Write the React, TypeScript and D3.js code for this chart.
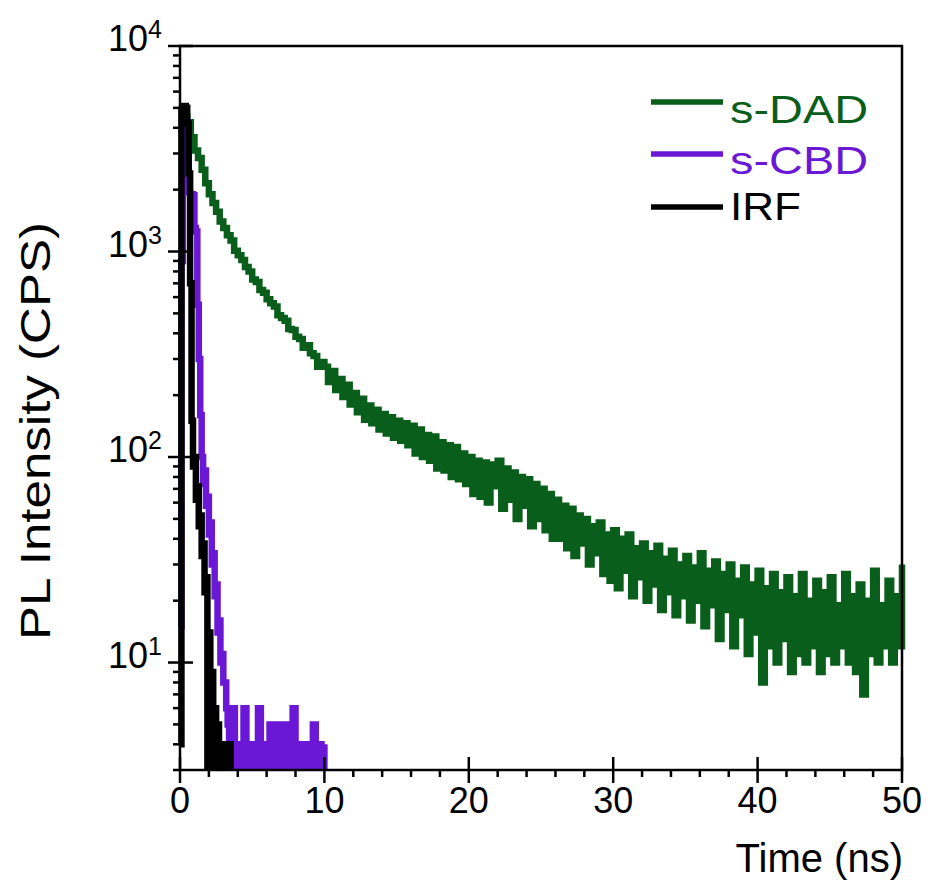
import React, { useEffect, useRef } from 'react';
import * as d3 from 'd3';

// s-DAD decay, counts every 0.25 ns from 0 to 50 ns
const DAD_STEP = 0.25;
const sDAD = [
  4700, 4550, 4250, 3600, 3100, 2850, 2500, 2150, 1900, 1720,
  1560, 1400, 1300, 1200, 1130, 1010, 960, 910, 840, 800,
  730, 710, 650, 630, 585, 560, 540, 490, 475, 460,
  420, 415, 385, 375, 340, 350, 320, 310, 275, 290,
  275, 232, 262, 212, 240, 196, 225, 180, 205, 165,
  192, 152, 178, 146, 170, 136, 162, 130, 156, 124,
  150, 120, 146, 114, 142, 104, 136, 100, 128, 96,
  126, 88, 118, 86, 114, 80, 112, 78, 104, 74,
  100, 66, 96, 64, 94, 60, 92, 72, 96, 56,
  88, 62, 84, 50, 80, 58, 78, 46, 74, 50,
  70, 44, 66, 40, 62, 40, 58, 36, 56, 33,
  52, 38, 50, 30, 46, 34, 48, 27, 42, 25,
  44, 23, 40, 28, 42, 21, 36, 26, 38, 20,
  34, 24, 37, 18, 32, 22, 35, 17, 30, 21,
  33, 16, 29, 20, 34, 15, 28, 19, 31, 13,
  27, 18, 30, 12, 25, 17, 29, 11, 24, 14,
  28, 8, 23, 12, 27, 10, 22, 13, 26, 9,
  21, 11, 27, 10, 20, 12, 25, 9, 22, 11,
  26, 10, 19, 12, 27, 10, 21, 9, 24, 7,
  20, 11, 28, 10, 19, 12, 25, 10, 21, 12,
  30,
];

// s-CBD: 0-3.5 ns every 0.1 ns, then 3.6-10 ns every 0.2 ns
const CBD_STEP_EARLY = 0.1;
const sCBDEarly = [
  15, 900, 4700, 4800, 4300, 3000, 1950, 1900, 1900, 1880,
  1300, 1250, 550, 300, 160, 100, 74, 86, 58, 64,
  42, 48, 30, 34, 21, 24, 14, 16, 10, 11,
  8, 8, 6, 5, 4, 2,
];
const CBD_STEP_TAIL = 0.2;
const CBD_TAIL_START = 3.6;
const sCBDTail = [
  6, 1, 4, 2, 6, 1, 4, 2, 4, 6,
  1, 4, 2, 5, 1, 5, 2, 4, 5, 1,
  4, 6, 2, 4, 1, 4, 2, 4, 5, 1,
  4, 2, 4,
];

// IRF every 0.1 ns
const IRF_STEP = 0.1;
const irf = [
  4, 4900, 5100, 5100, 5000, 4200, 2400, 700, 150, 90,
  100, 62, 72, 46, 52, 33, 38, 22, 26, 2,
  14, 1, 9, 2, 6, 1, 5, 2, 4, 1,
  4, 2, 4, 1, 4, 1,
];

const X_TICKS = [0, 10, 20, 30, 40, 50];
const Y_TICKS = [10, 100, 1000, 10000];
const Y_EXP = ['1', '2', '3', '4'];

const LEGEND = ['s-DAD', 's-CBD', 'IRF'];
const COLORS = ['#0a5e1b', '#6a18d6', '#000000'];
const LEGEND_LEN = [138, 138, 71];

const App = () => {
  const svgRef = useRef(null);

  useEffect(() => {
    const svg = d3.select(svgRef.current);
    svg.selectAll('*').remove();

    const width = 936;
    const height = 890;
    const left = 180, right = 902, top = 46, bottom = 770;
    const font = '"Liberation Sans", Arial, sans-serif';

    const x = d3.scaleLinear().domain([0, 50]).range([left, right]);
    const y = d3.scaleLog().domain([3, 10000]).range([bottom, top]);

    svg.attr('width', width).attr('height', height);

    svg.append('defs').append('clipPath').attr('id', 'plotclip')
      .append('rect')
      .attr('x', left - 8).attr('y', top)
      .attr('width', right - left + 12).attr('height', bottom - top);

    const dadData = sDAD.map((v, i) => ({ t: i * DAD_STEP, v }));
    const cbdData = [
      ...sCBDEarly.map((v, i) => ({ t: i * CBD_STEP_EARLY, v })),
      ...sCBDTail.map((v, i) => ({ t: CBD_TAIL_START + i * CBD_STEP_TAIL, v })),
    ];
    const irfData = irf.map((v, i) => ({ t: i * IRF_STEP, v }));

    const line = d3.line()
      .x(d => x(d.t))
      .y(d => Math.min(y(d.v), bottom + 20))
      .curve(d3.curveStepAfter);

    const plot = svg.append('g').attr('clip-path', 'url(#plotclip)');
    [dadData, cbdData, irfData].forEach((data, i) => {
      plot.append('path')
        .datum(data)
        .attr('d', line)
        .attr('fill', 'none')
        .attr('stroke', COLORS[i])
        .attr('stroke-width', 6.5)
        .attr('stroke-linejoin', 'miter');
    });

    // frame
    svg.append('rect')
      .attr('x', left).attr('y', top)
      .attr('width', right - left).attr('height', bottom - top)
      .attr('fill', 'none').attr('stroke', 'black').attr('stroke-width', 2.5);

    // x ticks
    const xMinor = d3.range(0, 51, 2).filter(v => v % 10 !== 0);
    svg.append('g').selectAll('line.xmaj').data(X_TICKS).join('line')
      .attr('x1', d => x(d)).attr('x2', d => x(d))
      .attr('y1', bottom - 13).attr('y2', bottom + 13)
      .attr('stroke', 'black').attr('stroke-width', 2.5);
    svg.append('g').selectAll('line.xmin').data(xMinor).join('line')
      .attr('x1', d => x(d)).attr('x2', d => x(d))
      .attr('y1', bottom).attr('y2', bottom + 7)
      .attr('stroke', 'black').attr('stroke-width', 2.5);
    svg.append('g').selectAll('text').data(X_TICKS).join('text')
      .attr('x', d => x(d)).attr('y', bottom + 43)
      .attr('text-anchor', 'middle')
      .style('font-family', font).style('font-size', '36px')
      .text(d => d);

    // y ticks
    const yMinor = [];
    [1, 10, 100, 1000].forEach(dec => {
      for (let k = 2; k <= 9; k++) {
        const v = k * dec;
        if (v >= 3 && v < 10000) yMinor.push(v);
      }
    });
    svg.append('g').selectAll('line.ymaj').data(Y_TICKS).join('line')
      .attr('x1', left - 12).attr('x2', left + 13)
      .attr('y1', d => y(d)).attr('y2', d => y(d))
      .attr('stroke', 'black').attr('stroke-width', 2.5);
    svg.append('g').selectAll('line.ymin').data(yMinor).join('line')
      .attr('x1', left - 7).attr('x2', left)
      .attr('y1', d => y(d)).attr('y2', d => y(d))
      .attr('stroke', 'black').attr('stroke-width', 2.5);
    const yl = svg.append('g').selectAll('text').data(Y_TICKS).join('text')
      .attr('x', 162).attr('y', d => y(d) + 5)
      .attr('text-anchor', 'end')
      .style('font-family', font);
    yl.append('tspan').style('font-size', '36px').text('10');
    yl.append('tspan').style('font-size', '25px').attr('dy', -13).text((d, i) => Y_EXP[i]);

    // axis titles
    svg.append('text')
      .attr('transform', 'translate(50,431) rotate(-90)')
      .attr('text-anchor', 'middle')
      .attr('textLength', 418).attr('lengthAdjust', 'spacingAndGlyphs')
      .style('font-family', font).style('font-size', '42px')
      .text('PL Intensity (CPS)');
    svg.append('text')
      .attr('x', 903).attr('y', 872)
      .attr('text-anchor', 'end')
      .style('font-family', font).style('font-size', '40px')
      .text('Time (ns)');

    // legend
    const legY = [102, 154, 207];
    const legBase = [122.5, 173.5, 220];
    LEGEND.forEach((name, i) => {
      svg.append('line')
        .attr('x1', 651).attr('x2', 723)
        .attr('y1', legY[i]).attr('y2', legY[i])
        .attr('stroke', COLORS[i]).attr('stroke-width', 5.5);
      svg.append('text')
        .attr('x', 730).attr('y', legBase[i])
        .attr('textLength', LEGEND_LEN[i]).attr('lengthAdjust', 'spacingAndGlyphs')
        .attr('fill', COLORS[i])
        .style('font-family', font).style('font-size', '39px')
        .text(name);
    });
  }, []);

  return (
    <svg ref={svgRef} style={{ position: 'absolute', left: 0, top: 0, background: 'white' }}></svg>
  );
};

export default App;
